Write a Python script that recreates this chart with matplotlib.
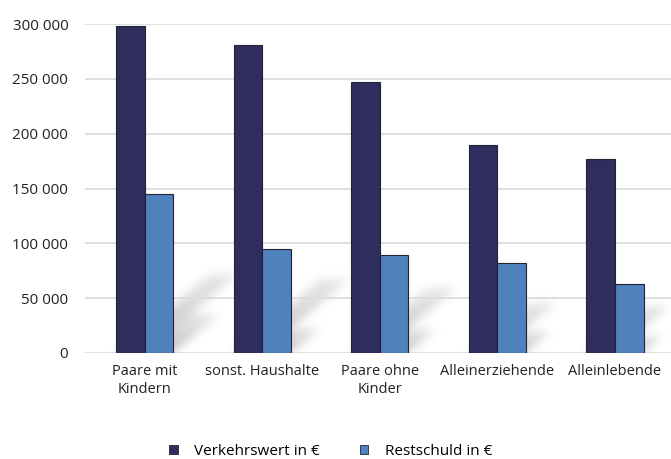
import numpy as np
import matplotlib.pyplot as plt
from matplotlib.patches import Patch
from matplotlib.ticker import FuncFormatter

# Haushaltstypen und Werte (Euro)
kategorien = ["Paare mit\nKindern", "sonst. Haushalte", "Paare ohne\nKinder",
              "Alleinerziehende", "Alleinlebende"]
verkehrswert = [298000, 281000, 247000, 190000, 177000]
restschuld = [145000, 95000, 89000, 82000, 63000]

dunkel = "#2e2d5e"
hell = "#4f81bd"

plt.rcParams['font.family'] = ['Open Sans', 'DejaVu Sans']


def blur(img, sigma):
    r = int(3 * sigma)
    k = np.exp(-0.5 * (np.arange(-r, r + 1) / sigma) ** 2)
    k /= k.sum()
    img = np.apply_along_axis(lambda m: np.convolve(m, k, mode='same'), 0, img)
    img = np.apply_along_axis(lambda m: np.convolve(m, k, mode='same'), 1, img)
    return img


def main():
    fig = plt.figure(figsize=(6.71, 4.59), dpi=100)
    ax = fig.add_axes([85 / 671, 106 / 459, 586 / 671, 329 / 459])

    x = np.arange(len(kategorien))
    w = 0.243
    xlim = (-0.51, 4.477)
    ylim = (0, 300000)

    # weicher Schlagschatten hinter den Saeulen
    nx, ny = 586, 329
    gx = np.linspace(xlim[0], xlim[1], nx)
    gy = np.linspace(ylim[1], ylim[0], ny)
    X, Y = np.meshgrid(gx, gy)
    mask = np.zeros_like(X)
    for xi, v1, v2 in zip(x, verkehrswert, restschuld):
        for x0, v in ((xi - w, v1), (xi, v2)):
            rise = 0.24 * v
            dx = v * 2.65e-6
            shift = Y / rise * dx
            inside = (Y <= rise) & (X >= x0 + shift) & (X <= x0 + w + shift)
            fade = 1 - 0.6 * (Y / rise)
            mask = np.maximum(mask, np.where(inside, fade, 0))
    mask = blur(mask, 4.5)
    rgba = np.zeros((ny, nx, 4))
    rgba[..., :3] = 0.58
    rgba[..., 3] = np.clip(mask, 0, 1) * 0.55
    ax.imshow(rgba, extent=(xlim[0], xlim[1], ylim[0], ylim[1]),
              aspect='auto', zorder=0.5, interpolation='bilinear')

    ax.bar(x - w / 2, verkehrswert, w, color=dunkel, edgecolor="#222233",
           linewidth=0.8, zorder=3, label="Verkehrswert in €")
    ax.bar(x + w / 2, restschuld, w, color=hell, edgecolor="#222233",
           linewidth=0.8, zorder=3, label="Restschuld in €")

    ax.set_xlim(xlim)
    ax.set_ylim(ylim)
    ax.set_yticks(np.arange(0, 300001, 50000))
    ax.yaxis.set_major_formatter(FuncFormatter(lambda v, p: f"{int(v):,}".replace(",", " ")))
    ax.grid(axis='y', color="#dcdcdc", linewidth=1.3, zorder=1)
    ax.set_axisbelow(True)
    for s in ax.spines.values():
        s.set_visible(False)
    ax.tick_params(length=0, colors="#222222")
    ax.tick_params(axis='y', pad=12, labelsize=11)
    ax.tick_params(axis='x', pad=8, labelsize=10.5)
    ax.set_xticks(x)
    ax.set_xticklabels(kategorien, linespacing=1.25)

    handles = [Patch(facecolor=dunkel, edgecolor="#222233", linewidth=0.6),
               Patch(facecolor=hell, edgecolor="#222233", linewidth=0.6)]
    fig.legend(handles, ["Verkehrswert in €", "Restschuld in €"],
               loc='center', bbox_to_anchor=(0.493, 0.017), ncol=2,
               frameon=False, fontsize=11, handlelength=0.55, handleheight=0.55,
               handletextpad=1.1, columnspacing=2.6)

    fig.savefig("out.png", dpi=100)


if __name__ == "__main__":
    main()
